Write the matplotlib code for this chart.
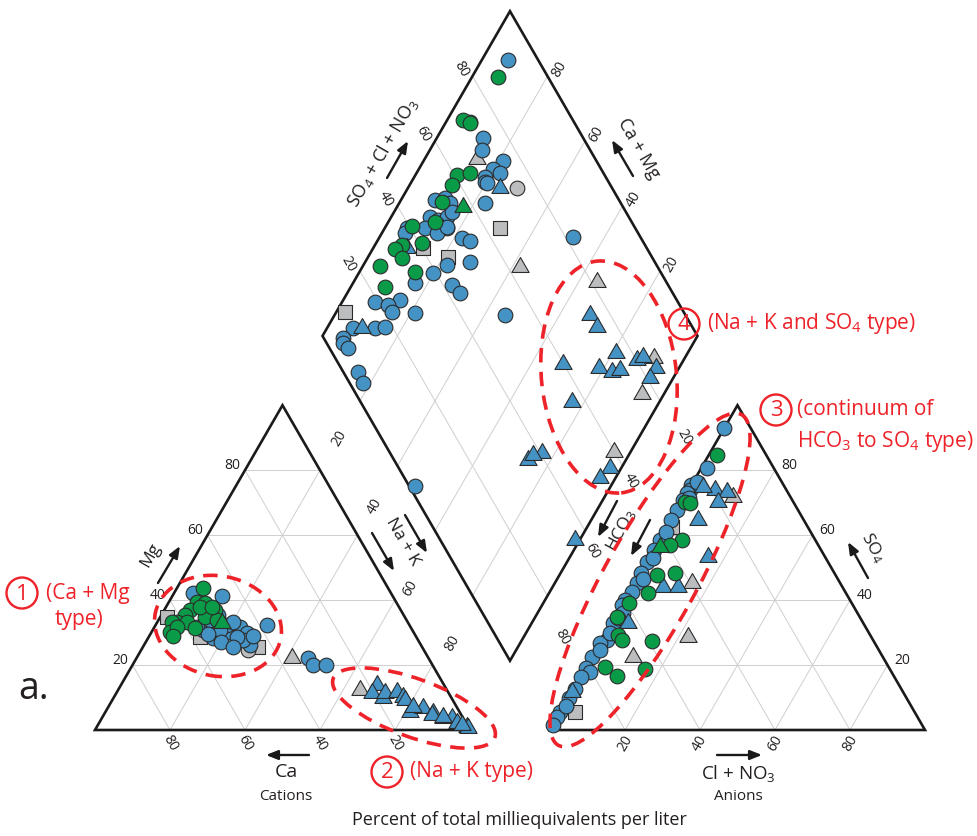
import numpy as np
import matplotlib
matplotlib.use('Agg')
import matplotlib.pyplot as plt
from matplotlib.patches import Ellipse, Circle, Polygon
from matplotlib.path import Path

plt.rcParams['font.family'] = ['Open Sans', 'DejaVu Sans']
plt.rcParams['mathtext.fontset'] = 'custom'
plt.rcParams['mathtext.rm'] = 'Open Sans'
plt.rcParams['mathtext.it'] = 'Open Sans'
plt.rcParams['mathtext.bf'] = 'Open Sans'

# ---------------- data ----------------
ticks = [20, 40, 60, 80]

# Cation triangle: (Mg %, Na+K %); Ca = remainder
cat_gray_squares = [(34.8, 1.8), (25.6, 30.7), (28.6, 13.7)]
cat_gray_circles = [(24.6, 28.5)]
cat_gray_triangles = [(22.2, 41.4), (12.3, 64.5), (3.7, 91.0)]
cat_blue_circles = [(41.3, 13.3), (32.3, 29.7), (28.3, 17.3), (30.2, 20.9), (31.7, 22.8),
                    (29.9, 25.6), (26.2, 28.2), (27.7, 25.6), (28.6, 23.6), (30.8, 13.4),
                    (31.7, 11.3), (32.3, 19.0), (42.2, 5.0), (30.8, 17.9), (33.3, 20.2),
                    (33.9, 13.8), (22.2, 45.7), (20.0, 48.1), (20.0, 51.6), (29.5, 15.5),
                    (35.5, 15.0), (27.0, 20.0), (25.5, 24.0), (29.0, 27.5)]
cat_blue_triangles = [(13.9, 68.3), (11.4, 68.2), (9.9, 71.9), (11.4, 71.6), (11.7, 74.7),
                      (10.2, 77.0), (5.5, 81.2), (9.2, 78.1), (6.8, 84.1), (5.2, 87.5),
                      (4.6, 87.6), (3.7, 93.4), (2.2, 95.4), (0.9, 98.7), (0.6, 99.2),
                      (7.1, 81.3), (4.0, 90.8), (1.5, 97.1)]
cat_green_circles = [(43.7, 6.9), (39.4, 7.5), (39.1, 9.8), (36.9, 6.8), (36.3, 12.0),
                     (35.4, 6.3), (36.9, 13.5), (33.3, 5.2), (33.3, 7.9), (33.3, 3.9),
                     (34.8, 11.9), (33.9, 15.6), (30.2, 4.9), (31.4, 11.0), (37.9, 9.1),
                     (31.7, 6.0), (28.9, 6.3), (37.9, 12.3)]
cat_green_triangles = [(32.9, 17.4)]

# Anion triangle: (SO4 %, Cl+NO3 %); HCO3 = remainder
an_gray_squares = [(5.5, 3.9), (62.5, 1.3)]
an_gray_triangles = [(71.7, 12.9), (45.3, 15.2), (28.6, 22.5), (22.5, 10.9)]
an_blue_circles = [(93.0, 0.0), (80.7, 1.5), (75.4, 0.0), (73.9, 0.3), (73.0, 0.0),
                   (70.8, 0.0), (67.7, 0.0), (64.7, 0.0), (58.5, 0.0), (55.4, 0.0),
                   (51.7, 0.0), (48.3, 0.0), (45.3, 0.6), (42.5, 0.6), (40.0, 0.0),
                   (38.5, 0.0), (36.0, 1.5), (32.9, 0.3), (27.7, 1.3), (26.8, 0.0),
                   (22.5, 0.0), (19.1, 0.0), (17.9, 1.7), (16.3, 0.0), (9.9, 0.0),
                   (5.5, 0.0), (4.0, 0.0), (1.5, 0.0), (76.5, 1.0), (71.5, 1.2),
                   (61.0, 0.5), (53.0, 1.0), (46.5, 1.5), (34.5, 0.8), (30.0, 1.0),
                   (24.5, 1.0), (12.5, 0.5), (7.5, 0.5)]
an_blue_triangles = [(73.9, 7.0), (73.3, 10.6), (70.2, 9.7), (64.7, 7.1), (53.3, 15.5),
                     (44.0, 8.1), (44.0, 12.1), (11.7, 0.0), (32.9, 4.3), (74.8, 3.4)]
an_green_circles = [(84.7, 2.2), (70.2, 0.9), (69.9, 2.4), (58.5, 5.9), (57.0, 3.5),
                    (48.3, 9.2), (47.7, 4.7), (42.2, 5.0), (39.1, 1.5), (34.8, 0.5),
                    (29.2, 3.5), (27.7, 5.3), (27.4, 13.5), (19.4, 5.0), (16.6, 9.5),
                    (18.8, 15.9)]
an_green_triangles = [(56.3, 1.1)]

# Diamond: (SO4+Cl+NO3 %, Ca+Mg %)
dia_gray_squares = [(64.0, 69.3), (9.7, 97.7), (45.6, 78.7), (40.3, 86.7)]
dia_gray_circles = [(74.6, 70.9), (49.8, 83.4)]
dia_gray_triangles = [(63.3, 58.0), (68.4, 86.0), (81.5, 35.1), (85.0, 8.2), (76.3, 5.9),
                      (59.9, 4.4)]
dia_blue_circles = [(91.9, 93.0), (73.3, 87.7), (71.2, 86.1), (75.1, 78.8), (71.1, 80.2),
                    (67.8, 81.1), (72.4, 77.8), (67.0, 80.4), (67.4, 79.7), (63.8, 77.1),
                    (72.2, 93.6), (52.3, 77.8), (54.0, 75.2), (50.7, 72.0), (44.1, 77.7),
                    (39.2, 80.2), (42.4, 73.3), (43.3, 70.0), (32.8, 83.5), (26.2, 84.9),
                    (19.2, 91.2), (22.2, 87.3), (22.2, 85.2), (28.2, 78.9), (51.9, 54.6),
                    (9.4, 93.1), (15.2, 87.2), (18.0, 84.7), (5.2, 94.3), (4.4, 93.5),
                    (5.0, 91.4), (3.9, 85.0), (3.6, 82.0), (1.6, 52.2), (82.0, 48.4),
                    (50.9, 90.9), (53.9, 88.6), (54.5, 86.5), (47.0, 89.7), (48.7, 87.1),
                    (51.5, 85.1), (53.6, 84.5), (44.0, 89.3), (47.9, 86.3), (46.4, 85.3),
                    (39.2, 94.1), (37.8, 93.8), (50.0, 83.6)]
dia_blue_triangles = [(70.1, 75.4), (11.8, 90.6), (36.1, 90.9), (74.6, 31.9), (74.6, 28.2),
                      (75.6, 19.1), (59.8, 31.5), (68.8, 21.3), (71.7, 17.3), (74.1, 15.4),
                      (80.2, 12.5), (82.2, 11.3), (84.0, 6.1), (80.9, 6.2), (56.4, 23.3),
                      (56.3, 3.0), (52.2, 4.2), (40.5, 23.4), (35.7, 26.1), (37.8, 25.5),
                      (36.0, 1.3)]
dia_green_circles = [(86.7, 93.1), (70.7, 95.8), (72.1, 93.5), (60.7, 88.9), (64.5, 85.8),
                     (57.8, 88.7), (52.5, 88.8), (47.5, 87.5), (40.8, 93.1), (40.8, 87.8),
                     (35.2, 92.8), (32.7, 94.0), (33.2, 90.8), (26.1, 95.4), (34.5, 85.2),
                     (24.2, 90.9)]
dia_green_triangles = [(57.3, 82.4)]

# ---------------- geometry ----------------
H = np.sqrt(3) / 2
GAP = 0.2133
S = 375.0  # pixels per unit


def P(px, py):
    return ((px - 95) / S, (730 - py) / S)


def cat_xy(mg, na):
    mg = np.asarray(mg) / 100.0
    na = np.asarray(na) / 100.0
    return na + mg / 2, mg * H


def an_xy(so4, cl):
    so4 = np.asarray(so4) / 100.0
    cl = np.asarray(cl) / 100.0
    return 1 + GAP + cl + so4 / 2, so4 * H


def dia_xy(a, c):
    a = np.asarray(a) / 100.0
    c = np.asarray(c) / 100.0
    return 1 + GAP / 2 + (a - c) / 2, GAP * H + (a + c) * H


BLUE = '#4592c4'
GREEN = '#0a9b48'
GRAY = '#bcbdbf'
EDGE = '#2b2b2b'
RED = '#ee2229'
TXT = '#231f20'
GRID = '#cfcfcf'

tri_path = Path([(0, 1), (-0.866, -0.5), (0.866, -0.5), (0, 1)],
                [Path.MOVETO, Path.LINETO, Path.LINETO, Path.CLOSEPOLY])

STY = {
    'gray_squares': dict(marker='s', c=GRAY, s=90),
    'gray_circles': dict(marker='o', c=GRAY, s=112),
    'gray_triangles': dict(marker=tri_path, c=GRAY, s=205),
    'blue_circles': dict(marker='o', c=BLUE, s=112),
    'blue_triangles': dict(marker=tri_path, c=BLUE, s=205),
    'green_circles': dict(marker='o', c=GREEN, s=112),
    'green_triangles': dict(marker=tri_path, c=GREEN, s=205),
}

fig = plt.figure(figsize=(9.77, 8.36), dpi=100)
ax = fig.add_axes([0, 0, 1, 1])
ax.set_xlim(-95 / S, 882 / S)
ax.set_ylim(-106 / S, 730 / S)
ax.set_aspect('equal')
ax.axis('off')

# ---------------- frames & grids ----------------
LW_EDGE = 1.9
LW_GRID = 0.7

A0, B0, C0 = np.array([0, 0]), np.array([1, 0]), np.array([0.5, H])
A1, B1, C1 = np.array([1 + GAP, 0]), np.array([2 + GAP, 0]), np.array([1.5 + GAP, H])
DB = np.array([1 + GAP / 2, GAP * H])
DL = np.array([0.5 + GAP / 2, H * (1 + GAP)])
DT = np.array([1 + GAP / 2, H * (2 + GAP)])
DR = np.array([1.5 + GAP / 2, H * (1 + GAP)])

for A, B, C in [(A0, B0, C0), (A1, B1, C1)]:
    for t in ticks:
        f = t / 100.0
        p, q = A + f * (C - A), B + f * (C - B)
        ax.plot([p[0], q[0]], [p[1], q[1]], color=GRID, lw=LW_GRID, zorder=1)
        p, q = A + f * (B - A), C + f * (B - C)
        ax.plot([p[0], q[0]], [p[1], q[1]], color=GRID, lw=LW_GRID, zorder=1)
        p, q = B + f * (A - B), C + f * (A - C)
        ax.plot([p[0], q[0]], [p[1], q[1]], color=GRID, lw=LW_GRID, zorder=1)
    ax.add_patch(Polygon([A, B, C], closed=True, fill=False, ec='#1a1a1a',
                         lw=LW_EDGE, zorder=3, joinstyle='miter'))

for t in ticks:
    f = t / 100.0
    p, q = DB + f * (DR - DB), DL + f * (DT - DL)
    ax.plot([p[0], q[0]], [p[1], q[1]], color=GRID, lw=LW_GRID, zorder=1)
    p, q = DB + f * (DL - DB), DR + f * (DT - DR)
    ax.plot([p[0], q[0]], [p[1], q[1]], color=GRID, lw=LW_GRID, zorder=1)
ax.add_patch(Polygon([DB, DR, DT, DL], closed=True, fill=False, ec='#1a1a1a',
                     lw=LW_EDGE, zorder=3, joinstyle='miter'))

# ---------------- tick labels ----------------
TFS = 10
# hand-placed label spots (px) for the two inner edges, as in the original figure
nak_label_px = [(339, 438), (375, 506), (410, 588), (452, 643)]
hco3_label_px = [(684, 437), (631, 481), (592, 551), (562, 637)]
for i, t in enumerate(ticks):
    f = t / 100.0
    x, y = f / 2, f * H
    ax.text(x - 0.012, y + 0.012, str(t), ha='right', va='center', fontsize=TFS, color=TXT)
    ax.text(*P(*nak_label_px[i]), str(t), ha='center', va='center',
            fontsize=TFS, color=TXT, rotation=60)
    ax.text(1 - f, -0.036, str(t), ha='center', va='center', fontsize=TFS,
            color=TXT, rotation=-60)
    ax.text(1 + GAP + f, -0.036, str(t), ha='center', va='center', fontsize=TFS,
            color=TXT, rotation=60)
    x, y = 1 + GAP + (1 - f) + f / 2, f * H
    ax.text(x + 0.018, y + 0.012, str(t), ha='left', va='center', fontsize=TFS, color=TXT)
    ax.text(*P(*hco3_label_px[i]), str(t), ha='center', va='center',
            fontsize=TFS, color=TXT, rotation=-60)
    p = DL + f * (DT - DL)
    ax.text(p[0] - 0.036 * H, p[1] + 0.036 * 0.5, str(t), ha='center', va='center',
            fontsize=TFS, color=TXT, rotation=-60)
    p = DR + f * (DT - DR)
    ax.text(p[0] + 0.036 * H, p[1] + 0.036 * 0.5, str(t), ha='center', va='center',
            fontsize=TFS, color=TXT, rotation=60)

# ---------------- data points ----------------
order = ['gray_squares', 'gray_circles', 'gray_triangles', 'blue_circles',
         'blue_triangles', 'green_circles', 'green_triangles']
cat_sets = {'gray_squares': cat_gray_squares, 'gray_circles': cat_gray_circles,
            'gray_triangles': cat_gray_triangles, 'blue_circles': cat_blue_circles,
            'blue_triangles': cat_blue_triangles, 'green_circles': cat_green_circles,
            'green_triangles': cat_green_triangles}
an_sets = {'gray_squares': an_gray_squares, 'gray_triangles': an_gray_triangles,
           'blue_circles': an_blue_circles, 'blue_triangles': an_blue_triangles,
           'green_circles': an_green_circles, 'green_triangles': an_green_triangles}
dia_sets = {'gray_squares': dia_gray_squares, 'gray_circles': dia_gray_circles,
            'gray_triangles': dia_gray_triangles, 'blue_circles': dia_blue_circles,
            'blue_triangles': dia_blue_triangles, 'green_circles': dia_green_circles,
            'green_triangles': dia_green_triangles}

for z, key in enumerate(order):
    for sets, fn in [(cat_sets, cat_xy), (an_sets, an_xy), (dia_sets, dia_xy)]:
        if key not in sets:
            continue
        arr = np.array(sets[key], dtype=float)
        x, y = fn(arr[:, 0], arr[:, 1])
        st = STY[key]
        ax.scatter(x, y, marker=st['marker'], s=st['s'], facecolor=st['c'],
                   edgecolor=EDGE, linewidth=0.8, zorder=5 + z)

# ---------------- axis names & arrows ----------------
def arrow(p0, p1):
    ax.annotate('', xy=P(*p1), xytext=P(*p0),
                arrowprops=dict(arrowstyle='-|>,head_length=0.7,head_width=0.28',
                                color='#1a1a1a', lw=1.7, shrinkA=0, shrinkB=0), zorder=4)

LFS = 12.5
ax.text(*P(151, 555), 'Mg', rotation=60, ha='center', va='center', fontsize=LFS, color=TXT)
arrow((158, 583), (180, 546))

ax.text(*P(403, 542), 'Na + K', rotation=-60, ha='center', va='center', fontsize=LFS, color=TXT)
arrow((405, 515), (427, 553))
arrow((372, 533), (394, 571))

ax.text(*P(621, 530), 'HCO$_\\mathregular{3}$', rotation=62, ha='center', va='center',
        fontsize=LFS, color=TXT)
arrow((617, 501), (598, 537))
arrow((650, 520), (631, 556))

ax.text(*P(873, 548), 'SO$_\\mathregular{4}$', rotation=-62, ha='center', va='center',
        fontsize=LFS, color=TXT)
arrow((868, 578), (848, 542))

ax.text(*P(383, 152), 'SO$_\\mathregular{4}$ + Cl + NO$_\\mathregular{3}$', rotation=60,
        ha='center', va='center', fontsize=LFS + 0.5, color=TXT)
arrow((387, 178), (408, 141))

ax.text(*P(639, 148), 'Ca + Mg', rotation=-60, ha='center', va='center', fontsize=LFS + 0.5,
        color=TXT)
arrow((633, 176), (612, 140))

ax.text(*P(286, 772), 'Ca', ha='center', va='center', fontsize=14, color=TXT)
arrow((309, 755), (266, 755))
ax.text(*P(286, 797), 'Cations', ha='center', va='center', fontsize=11, color=TXT)

ax.text(*P(738, 773), 'Cl + NO$_\\mathregular{3}$', ha='center', va='center', fontsize=13.5,
        color=TXT)
arrow((717, 755), (762, 755))
ax.text(*P(738, 797), 'Anions', ha='center', va='center', fontsize=11, color=TXT)

ax.text(*P(519, 820), 'Percent of total milliequivalents per liter', ha='center',
        va='center', fontsize=13, color=TXT)

ax.text(*P(34, 689), 'a.', ha='center', va='center', fontsize=27, color=TXT)

# ---------------- red annotations ----------------
DASH = (0, (4, 2.6))
ELW = 2.6
ellipses = [  # centre px, width px, height px, angle
    ((218, 626), 128, 100, -12),
    ((414, 708), 172, 58, -20),
    ((650, 580), 378, 92, 61),
    ((609, 377), 135, 233, 6),
]
for (cx, cy), w, h, ang in ellipses:
    ax.add_patch(Ellipse(P(cx, cy), w / S, h / S, angle=ang, fill=False, ec=RED,
                         lw=ELW, ls=DASH, zorder=20))

RFS = 15
for num, (cx, cy) in [('1', (22, 593)), ('2', (387, 772)), ('3', (776, 410)), ('4', (684, 324))]:
    ax.add_patch(Circle(P(cx, cy), 15.5 / S, fill=False, ec=RED, lw=1.7, zorder=20))
    ax.text(*P(cx, cy + 1), num, ha='center', va='center', fontsize=16, color=RED)

ax.text(*P(46, 593), '(Ca + Mg', ha='left', va='center', fontsize=RFS, color=RED)
ax.text(*P(55, 620), 'type)', ha='left', va='center', fontsize=RFS, color=RED)
ax.text(*P(410, 772), '(Na + K type)', ha='left', va='center', fontsize=RFS, color=RED)
ax.text(*P(797, 410), '(continuum of', ha='left', va='center', fontsize=RFS, color=RED)
ax.text(*P(797, 442), 'HCO$_\\mathregular{3}$ to SO$_\\mathregular{4}$ type)', ha='left',
        va='center', fontsize=RFS, color=RED)
ax.text(*P(707, 324), '(Na + K and SO$_\\mathregular{4}$ type)', ha='left', va='center',
        fontsize=RFS, color=RED)

fig.savefig('out.png', dpi=100)
